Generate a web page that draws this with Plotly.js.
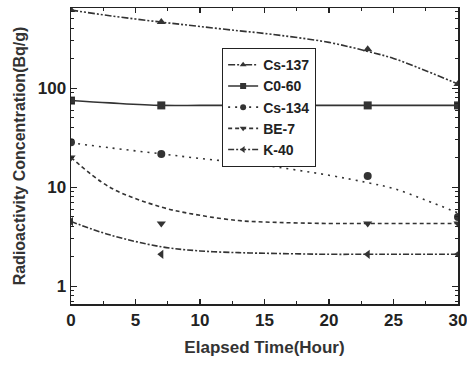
<!DOCTYPE html>
<html><head><meta charset="utf-8">
<script src="https://cdn.plot.ly/plotly-3.0.1.min.js"></script>
<style>html,body{margin:0;padding:0;background:#fff}#c{width:467px;height:365px}</style>
</head><body><div id="c"></div>
<script>
// Measured data points
const hours = [0, 7, 23, 30];
const cs137 = [615, 465, 248, 110];
const co60  = [75, 67, 67, 67];
const cs134 = [28.5, 21.7, 13, 5.0];
const be7   = [20, 4.3, 4.3, 4.3];
const k40   = [4.5, 2.1, 2.1, 2.1];
// Fitted curves
const fitX      = [0, 3, 7, 10, 13, 15, 20, 23, 25, 27.5, 30];
const cs137Fit  = [615, 540, 465, 420, 380, 357, 290, 235, 200, 150, 110];
const co60Fit   = [75, 71, 67, 67, 67, 67, 67, 67, 67, 67, 67];
const cs134Fit  = [28, 25, 21.7, 19.5, 17.8, 16.6, 13.2, 11.1, 9.7, 7.4, 5.5];
const be7Fit    = [20, 10, 6.3, 5.2, 4.6, 4.45, 4.3, 4.3, 4.3, 4.3, 4.3];
const k40Fit    = [4.5, 3.3, 2.5, 2.27, 2.18, 2.15, 2.1, 2.1, 2.1, 2.1, 2.1];
const names = ['Cs-137', 'C0-60', 'Cs-134', 'BE-7', 'K-40'];
const yTickVals = [1, 10, 100];
const yTickText = ['1', '10', '100'];
const yMinor = [0.7,0.8,0.9,2,3,4,5,6,7,8,9,20,30,40,50,60,70,80,90,200,300,400,500,600];

const pts = [cs137, co60, cs134, be7, k40];
const fits = [cs137Fit, co60Fit, cs134Fit, be7Fit, k40Fit];
const symbols = ['triangle-up', 'square', 'circle', 'triangle-down', 'triangle-left'];
const dashes = ['7px,2px,2px,2px,2px,2px', 'solid', '2px,5px', '4px,3px', '6px,2px,2px,2px'];
const col = '#333';
const traces = [];
for (let i = 0; i < 5; i++) {
  traces.push({x: fitX, y: fits[i], mode: 'lines', line: {color: col, width: 1.6, dash: dashes[i], shape: 'spline'}, showlegend: false, hoverinfo: 'skip'});
  traces.push({x: hours, y: pts[i], mode: 'markers', marker: {symbol: symbols[i], size: 8, color: col}, showlegend: false});
  traces.push({x: [null], y: [null], name: names[i], mode: 'lines+markers', line: {color: col, width: 1.6, dash: dashes[i]}, marker: {symbol: symbols[i], size: 6, color: col}});
}
// minor y ticks via overlay axis
traces.push({x: [null], y: [null], yaxis: 'y2', showlegend: false, hoverinfo: 'skip'});

const font = {family: 'Liberation Sans, Arial, sans-serif', color: '#222'};
const layout = {
  width: 467, height: 365,
  margin: {l: 71, r: 9, t: 8, b: 61},
  paper_bgcolor: '#fff', plot_bgcolor: '#fff',
  font: font,
  showlegend: true,
  legend: {x: 0.39, y: 0.865, xanchor: 'left', yanchor: 'top', bordercolor: '#222', borderwidth: 1.2, bgcolor: '#fff',
    font: {family: font.family, size: 14, color: '#222', weight: 'bold'}, tracegroupgap: 0, itemwidth: 30},
  xaxis: {range: [0, 30], tickvals: [0, 5, 10, 15, 20, 25, 30], ticks: 'inside', ticklen: 5, tickwidth: 1.2, tickcolor: '#222',
    ticklabeloverflow: 'allow',
    minor: {tickvals: [2.5, 7.5, 12.5, 17.5, 22.5, 27.5], ticks: 'inside', ticklen: 3, tickcolor: '#222'},
    showline: true, linecolor: '#222', linewidth: 1.5, mirror: 'ticks', showgrid: false, zeroline: false,
    tickfont: {size: 17, weight: 'bold', color: '#222'},
    title: {text: 'Elapsed Time(Hour)', font: {size: 17, weight: 'bold', color: '#333'}, standoff: 12}},
  yaxis: {type: 'log', range: [-0.18, 2.81], tickvals: yTickVals, ticktext: yTickText, ticks: 'inside', ticklen: 6, tickwidth: 1.2, tickcolor: '#222',
    ticklabeloverflow: 'allow',
    showline: true, linecolor: '#222', linewidth: 1.5, mirror: 'ticks', showgrid: false, zeroline: false,
    tickfont: {size: 17, weight: 'bold', color: '#222'},
    title: {text: 'Radioactivity Concentration(Bq/g)', font: {size: 16, weight: 'bold', color: '#333'}, standoff: 8}},
  yaxis2: {type: 'log', range: [-0.18, 2.81], overlaying: 'y', side: 'left', tickvals: yMinor, ticks: 'inside', ticklen: 3, tickcolor: '#222',
    showticklabels: false, showgrid: false, zeroline: false, showline: false, mirror: 'ticks'}
};
Plotly.newPlot('c', traces, layout, {displayModeBar: false, staticPlot: true});
</script>
</body></html>
